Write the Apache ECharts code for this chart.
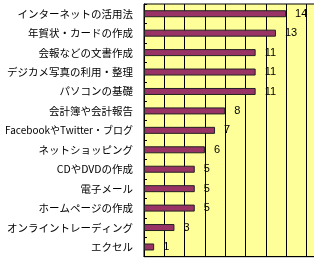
<!DOCTYPE html>
<html>
<head>
<meta charset="utf-8">
<script src="https://cdn.jsdelivr.net/npm/echarts@6/dist/echarts.min.js"></script>
<style>
html,body{margin:0;padding:0;background:#fff;}
#c{width:314px;height:260px;}
</style>
</head>
<body>
<div id="c"></div>
<script>
const categories = ["インターネットの活用法","年賀状・カードの作成","会報などの文書作成","デジカメ写真の利用・整理","パソコンの基礎","会計簿や会計報告","FacebookやTwitter・ブログ","ネットショッピング","CDやDVDの作成","電子メール","ホームページの作成","オンライントレーディング","エクセル"];
const values = [14,13,11,11,11,8,7,6,5,5,5,3,1];

const FONT = '"Noto Sans CJK JP", sans-serif';
const chart = echarts.init(document.getElementById('c'), null, {renderer:'canvas'});
chart.setOption({
  animation:false,
  backgroundColor:'#ffffff',
  grid:{left:144,top:4,width:182.7,height:252.7,show:true,backgroundColor:'#FFFF99',borderColor:'#000',borderWidth:1,containLabel:false,outerBoundsMode:'none'},
  xAxis:{type:'value',min:0,max:18,interval:2,z:1,
    axisLine:{show:true,lineStyle:{color:'#000'}},
    axisTick:{show:false},axisLabel:{show:false},
    splitLine:{show:true,lineStyle:{color:'#000',width:1}}},
  yAxis:{type:'category',data:categories,inverse:true,z:1,
    axisLine:{show:true,lineStyle:{color:'#000'}},
    axisTick:{show:true,inside:true,length:3,lineStyle:{color:'#000'}},
    axisLabel:{color:'#000',fontSize:10.5,margin:11,fontFamily:FONT,
      formatter:function(v){return v.length>15 ? '{s|'+v+'}' : v;},
      rich:{s:{fontSize:10,color:'#000',fontFamily:FONT}}}},
  series:[{type:'bar',data:values,barWidth:7,z:3,
    itemStyle:{color:'#993366',borderColor:'#222',borderWidth:1},
    label:{show:true,position:'right',distance:9,color:'#000',fontSize:11,fontFamily:'"Liberation Sans", sans-serif'}}]
});
</script>
</body>
</html>
